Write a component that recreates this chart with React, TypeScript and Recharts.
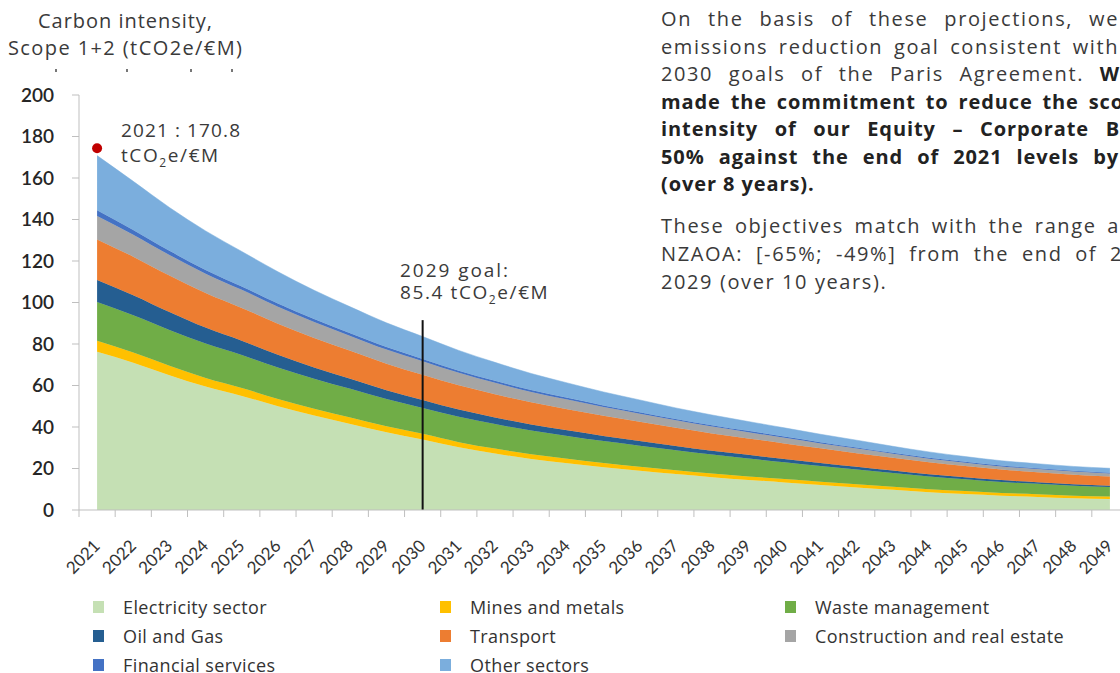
import { AreaChart, Area, XAxis, YAxis, ReferenceLine, ReferenceDot } from 'recharts';

const years = [
  '2021', '2022', '2023', '2024', '2025', '2026', '2027', '2028', '2029', '2030',
  '2031', '2032', '2033', '2034', '2035', '2036', '2037', '2038', '2039', '2040',
  '2041', '2042', '2043', '2044', '2045', '2046', '2047', '2048', '2049',
];

const electricity = [76.3, 71.0, 65.0, 59.5, 55.0, 50.0, 45.5, 41.5, 37.5, 34.0, 30.2, 27.2, 24.6, 22.5, 20.6, 18.9, 17.3, 15.8, 14.5, 13.3, 12.0, 10.9, 9.7, 8.6, 7.7, 6.9, 6.3, 5.7, 5.3];
const mines = [5.3, 4.9, 4.5, 4.1, 3.8, 3.5, 3.3, 3.1, 2.9, 2.7, 2.5, 2.4, 2.3, 2.2, 2.1, 2.0, 1.9, 1.8, 1.7, 1.6, 1.6, 1.5, 1.5, 1.4, 1.4, 1.3, 1.3, 1.2, 1.2];
const waste = [18.6, 18.0, 17.3, 16.6, 15.9, 15.2, 14.5, 13.8, 13.1, 12.5, 12.2, 11.8, 11.4, 11.0, 10.5, 10.1, 9.6, 9.1, 8.6, 8.1, 7.6, 7.1, 6.6, 6.1, 5.7, 5.3, 5.0, 4.8, 4.6];
const oilGas = [10.6, 9.6, 8.6, 7.7, 6.9, 6.1, 5.4, 4.8, 4.2, 3.8, 3.5, 3.2, 2.9, 2.7, 2.5, 2.3, 2.1, 1.9, 1.8, 1.6, 1.5, 1.3, 1.2, 1.1, 1.0, 0.9, 0.8, 0.7, 0.6];
const transport = [19.6, 18.6, 17.6, 16.7, 15.8, 15.0, 14.2, 13.5, 12.8, 12.2, 11.7, 11.2, 10.7, 10.2, 9.7, 9.2, 8.7, 8.3, 7.9, 7.5, 7.0, 6.6, 6.2, 5.8, 5.4, 5.1, 4.8, 4.6, 4.4];
const construction = [11.3, 10.6, 9.9, 9.3, 8.7, 8.2, 7.7, 7.2, 6.8, 6.5, 6.0, 5.5, 5.0, 4.6, 4.2, 3.9, 3.6, 3.3, 3.0, 2.7, 2.4, 2.2, 1.9, 1.7, 1.6, 1.5, 1.5, 1.5, 1.5];
const financial = [2.8, 2.3, 2.0, 1.8, 1.6, 1.5, 1.4, 1.3, 1.2, 1.1, 1.0, 0.95, 0.9, 0.85, 0.8, 0.75, 0.7, 0.7, 0.65, 0.6, 0.6, 0.55, 0.5, 0.5, 0.45, 0.45, 0.4, 0.4, 0.4];
const other = [26.3, 23.4, 20.9, 18.8, 16.9, 15.3, 13.9, 12.7, 11.7, 10.8, 9.8, 8.9, 8.0, 7.2, 6.5, 5.9, 5.3, 4.9, 4.5, 4.2, 3.8, 3.5, 3.1, 2.8, 2.5, 2.3, 2.2, 2.1, 2.1];

const yTicks = [0, 20, 40, 60, 80, 100, 120, 140, 160, 180, 200];
const startYear = '2021';
const startMarker = 174.3;
const goalYear = '2030';
const goalLineTop = 91.5;

const series = [
  { key: 'electricity', name: 'Electricity sector', color: '#c5e0b4', values: electricity },
  { key: 'mines', name: 'Mines and metals', color: '#ffc000', values: mines },
  { key: 'waste', name: 'Waste management', color: '#70ad47', values: waste },
  { key: 'oilGas', name: 'Oil and Gas', color: '#255e91', values: oilGas },
  { key: 'transport', name: 'Transport', color: '#ed7d31', values: transport },
  { key: 'construction', name: 'Construction and real estate', color: '#a5a5a5', values: construction },
  { key: 'financial', name: 'Financial services', color: '#4472c4', values: financial },
  { key: 'other', name: 'Other sectors', color: '#7baedd', values: other },
];

// legend is laid out row by row, like the original
const legendOrder = [
  'electricity', 'mines', 'waste',
  'oilGas', 'transport', 'construction',
  'financial', 'other',
];

const data = years.map((year, i) => {
  const row: any = { year };
  series.forEach((s) => (row[s.key] = s.values[i]));
  return row;
});

const PLOT_LEFT = 79;
const PLOT_RIGHT = 1128;
const HALF_BAND = (PLOT_RIGHT - PLOT_LEFT) / years.length / 2;
const TEXT = '#3a3a3a';
const FONT = "'Open Sans', sans-serif";

function YearTick({ x, y, payload }: any) {
  const ax = x + 4;
  const ay = y + 37;
  return (
    <g>
      <line x1={x - HALF_BAND} x2={x - HALF_BAND} y1={y} y2={y + 7} stroke="#bfbfbf" />
      <text
        x={ax}
        y={ay}
        transform={`rotate(-45, ${ax}, ${ay})`}
        textAnchor="end"
        fontSize={17}
        fontFamily="Lato"
        fill="#333"
      >
        {payload.value}
      </text>
    </g>
  );
}

function ValueTick({ y, payload }: any) {
  return (
    <g>
      <line x1={PLOT_LEFT - 7} x2={PLOT_LEFT} y1={y} y2={y} stroke="#bfbfbf" />
      <text
        x={PLOT_LEFT - 25}
        y={y}
        dy="0.35em"
        textAnchor="end"
        fontSize={19}
        fontFamily="Lato"
        fontWeight={600}
        fill="#262626"
      >
        {payload.value}
      </text>
    </g>
  );
}

const paragraph = [
  { y: 27, len: 458, parts: [{ t: 'On the basis of these projections, we', b: false }] },
  { y: 55, len: 458, parts: [{ t: 'emissions reduction goal consistent with', b: false }] },
  { y: 82, len: 459, parts: [{ t: '2030 goals of the Paris Agreement. ', b: false }, { t: 'W', b: true }] },
  { y: 110, len: 463, parts: [{ t: 'made the commitment to reduce the sco', b: true }] },
  { y: 137, len: 459, parts: [{ t: 'intensity of our Equity – Corporate B', b: true }] },
  { y: 165, len: 458, parts: [{ t: '50% against the end of 2021 levels by', b: true }] },
  { y: 192, len: 0, parts: [{ t: '(over 8 years).', b: true }] },
  { y: 234, len: 470, parts: [{ t: 'These objectives match with the range as', b: false }] },
  { y: 262, len: 462, parts: [{ t: 'NZAOA: [-65%; -49%] from the end of 2', b: false }] },
  { y: 290, len: 0, parts: [{ t: '2029 (over 10 years).', b: false }] },
];

function Paragraph() {
  return (
    <>
      {paragraph.map((line, i) => (
        <div
          key={i}
          style={{
            position: 'absolute',
            left: 661,
            top: line.y - 20,
            width: line.len || 400,
            fontFamily: FONT,
            fontSize: 20,
            lineHeight: '24px',
            letterSpacing: 1.6,
            color: TEXT,
            textAlign: 'left',
            textAlignLast: line.len ? 'justify' : 'left',
          }}
        >
          {line.parts.map((p, j) => (
            <span key={j} style={{ fontWeight: p.b ? 700 : 400, color: p.b ? '#222' : TEXT, letterSpacing: p.b ? 0.9 : 1.6 }}>
              {p.t}
            </span>
          ))}
        </div>
      ))}
    </>
  );
}

// remnants of a cropped text line under the axis title
const titleRemnants = [56, 127, 191, 232];

function Annotations() {
  return (
    <svg
      width={1120}
      height={673}
      style={{ position: 'absolute', left: 0, top: 0, pointerEvents: 'none' }}
      fontFamily={FONT}
      fill={TEXT}
    >
      <text x={125} y={28} fontSize={20} textAnchor="middle" textLength={174} lengthAdjust="spacing">
        Carbon intensity,
      </text>
      <text x={125} y={55} fontSize={20} textAnchor="middle" textLength={234} lengthAdjust="spacing">
        Scope 1+2 (tCO2e/€M)
      </text>
      {titleRemnants.map((cx) => (
        <rect key={cx} x={cx - 1} y={69} width={2} height={3} fill="#777" />
      ))}

      <text x={121} y={137} fontSize={19} textLength={119} lengthAdjust="spacing">2021 : 170.8</text>
      <text x={121} y={162} fontSize={19} letterSpacing={1.6}>
        tCO<tspan fontSize={12} dy={5}>2</tspan>
        <tspan dy={-5}>e/€M</tspan>
      </text>

      <text x={400} y={277} fontSize={19} textLength={108} lengthAdjust="spacing">2029 goal:</text>
      <text x={400} y={299} fontSize={19} letterSpacing={1.6}>
        85.4 tCO<tspan fontSize={12} dy={5}>2</tspan>
        <tspan dy={-5}>e/€M</tspan>
      </text>
    </svg>
  );
}

function SectorLegend() {
  const cols = [93, 440, 785];
  const rows = [607, 636, 665];
  return (
    <div style={{ position: 'absolute', left: 0, top: 0, width: 1120, height: 673, pointerEvents: 'none' }}>
      {legendOrder.map((key, i) => {
        const s = series.find((d) => d.key === key)!;
        const left = cols[i % 3];
        const top = rows[Math.floor(i / 3)];
        return (
          <div
            key={key}
            style={{
              position: 'absolute',
              left,
              top: top - 12,
              height: 24,
              display: 'flex',
              alignItems: 'center',
              fontFamily: FONT,
              fontSize: 18,
              letterSpacing: 0.4,
              color: '#333',
              whiteSpace: 'nowrap',
            }}
          >
            <span style={{ width: 11, height: 12, background: s.color, display: 'inline-block', marginRight: 19 }} />
            {s.name}
          </div>
        );
      })}
    </div>
  );
}

export default function App() {
  return (
    <div
      style={{
        position: 'fixed',
        left: 0,
        top: 0,
        width: 1120,
        height: 673,
        overflow: 'hidden',
        background: '#fff',
      }}
    >
      <AreaChart width={1140} height={673} data={data} margin={{ top: 95, right: 12, bottom: 103, left: 0 }}>
        <XAxis
          dataKey="year"
          interval={0}
          padding={{ left: HALF_BAND, right: HALF_BAND }}
          tickSize={0}
          tickMargin={0}
          tickLine={false}
          axisLine={{ stroke: '#bfbfbf' }}
          tick={<YearTick />}
          height={60}
        />
        <YAxis
          width={79}
          domain={[0, 200]}
          ticks={yTicks}
          interval={0}
          tickLine={false}
          axisLine={{ stroke: '#bfbfbf' }}
          tick={<ValueTick />}
        />
        {series.map((s) => (
          <Area
            key={s.key}
            type="monotone"
            dataKey={s.key}
            name={s.name}
            stackId="sectors"
            stroke={s.color}
            strokeWidth={0.5}
            fill={s.color}
            fillOpacity={1}
            isAnimationActive={false}
          />
        ))}
        <ReferenceLine
          segment={[{ x: goalYear, y: 0 }, { x: goalYear, y: goalLineTop }]}
          stroke="#111"
          strokeWidth={2}
        />
        <ReferenceDot x={startYear} y={startMarker} r={5} fill="#c00000" stroke="none" />
      </AreaChart>
      <Annotations />
      <Paragraph />
      <SectorLegend />
    </div>
  );
}
